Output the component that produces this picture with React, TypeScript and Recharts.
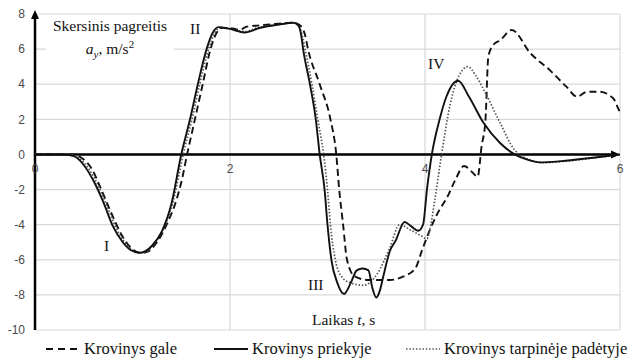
import React from "react";
import {
  LineChart,
  Line,
  XAxis,
  YAxis,
  CartesianGrid,
  ReferenceLine,
} from "recharts";

// Laikas t, s  /  Skersinis pagreitis a_y, m/s2
const tGale = [
  0, 0.38, 0.48, 0.58, 0.68, 0.78, 0.88, 0.98, 1.08, 1.15, 1.25, 1.35, 1.45, 1.5,
  1.56, 1.64, 1.72, 1.8, 1.86, 1.91, 2.0, 2.1, 2.17, 2.3, 2.5, 2.65, 2.72, 2.77,
  2.8, 2.92, 3.03, 3.09, 3.12, 3.16, 3.2, 3.28, 3.42, 3.64, 3.78, 3.9, 3.97, 4.05,
  4.12, 4.24, 4.31, 4.4, 4.48, 4.54, 4.58, 4.62, 4.65, 4.7, 4.77, 4.89, 5.08,
  5.28, 5.45, 5.56, 5.66, 5.79, 5.93, 5.98, 6.0,
];
const aGale = [
  0, 0, -0.2, -0.8, -2.0, -3.3, -4.5, -5.3, -5.6, -5.55, -5.0, -4.0, -2.6, -1.6,
  0, 2, 4, 6, 6.9, 7.2, 7.2, 7.1, 7.28, 7.35, 7.45, 7.5, 7.35, 6.8,
  6, 4, 2, 0, -2, -4, -6, -6.95, -7.15, -7.15, -6.95, -6.5, -5.45, -4.3,
  -3.45, -2.3, -1.46, -0.66, -0.98, -1.27, 0.44, 1.96, 5.6, 6.23, 6.5, 7.09, 5.77,
  4.8, 3.86, 3.29, 3.57, 3.57, 3.2, 2.64, 2.4,
];

const tPriekyje = [
  0, 0.3, 0.4, 0.5, 0.6, 0.7, 0.8, 0.9, 1.0, 1.08, 1.2, 1.3, 1.4, 1.5, 1.59, 1.67,
  1.76, 1.82, 1.88, 2.0, 2.15, 2.3, 2.5, 2.65, 2.7, 2.73, 2.75, 2.82, 2.88, 2.92,
  2.97, 3.0, 3.04, 3.1, 3.17, 3.24, 3.3, 3.36, 3.42, 3.46, 3.5, 3.54, 3.57, 3.64,
  3.7, 3.79, 3.86, 3.93, 3.98, 4.02, 4.07, 4.15, 4.22, 4.34, 4.45, 4.6, 4.77,
  4.92, 5.05, 5.18, 5.4, 5.7, 6.0,
];
const aPriekyje = [
  0, 0, -0.1, -0.6, -1.5, -2.7, -4.1, -5.0, -5.5, -5.6, -5.2, -4.4, -2.8, 0, 2, 4,
  6, 6.9, 7.25, 7.15, 6.95, 7.2, 7.4, 7.5, 7.35, 6.8, 6.0, 4, 2, 0,
  -2, -4, -6, -7.3, -7.95, -7.3, -6.6, -6.5, -6.6, -7.6, -8.15, -7.7, -7.0, -5.5,
  -4.9, -3.85, -4.1, -4.35, -4.0, -2.0, 0, 2.0, 3.3, 4.2, 3.3, 1.8, 0.65,
  0, -0.3, -0.45, -0.38, -0.2, 0,
];

const tTarpineje = [
  0, 0.35, 0.45, 0.55, 0.65, 0.75, 0.85, 0.95, 1.05, 1.12, 1.22, 1.32, 1.42, 1.52,
  1.61, 1.69, 1.78, 1.84, 1.9, 2.0, 2.15, 2.3, 2.5, 2.65, 2.71, 2.74, 2.77, 2.84,
  2.9, 2.96, 3.0, 3.03, 3.08, 3.15, 3.23, 3.37, 3.51, 3.64, 3.74, 3.85, 3.95,
  4.02, 4.06, 4.1, 4.17, 4.26, 4.35, 4.44, 4.52, 4.62, 4.77, 4.92, 4.97, 5.1,
  5.21, 5.5, 5.8, 6.0,
];
const aTarpineje = [
  0, 0, -0.2, -0.8, -1.8, -3.1, -4.4, -5.2, -5.6, -5.6, -5.1, -4.2, -2.6, 0,
  2, 4, 6, 6.9, 7.2, 7.15, 7.0, 7.25, 7.4, 7.5, 7.3, 6.8, 6, 4,
  2, 0, -2, -4, -6, -7.0, -7.3, -7.45, -6.8, -5.3, -4.0, -4.3, -4.6,
  -4.8, -4.0, -2.6, 0, 2.9, 4.5, 5.0, 4.5, 3.5, 1.8, 0.25, 0, -0.35,
  -0.47, -0.35, -0.15, 0,
];

const xTicks = [0, 2, 4, 6];
const yTicks = [-10, -8, -6, -4, -2, 0, 2, 4, 6, 8];

const seriesNames = [
  "Krovinys gale",
  "Krovinys priekyje",
  "Krovinys tarpinėje padėtyje",
];

const toPoints = (ts: number[], as: number[]) => ts.map((t, i) => ({ t, a: as[i] }));

const dataGale = toPoints(tGale, aGale);
const dataPriekyje = toPoints(tPriekyje, aPriekyje);
const dataTarpineje = toPoints(tTarpineje, aTarpineje);

const W = 631;
const CHART_H = 340;
const TOP = 14;
const PLOT_H = 316;
const zeroY = TOP + (PLOT_H * 8) / 18;

const tickFont = "'Liberation Sans', Arial, sans-serif";
const serif = "'Liberation Serif', 'Times New Roman', serif";

const XTick = (props: any) => {
  const { x, payload } = props;
  return (
    <text
      x={x}
      y={zeroY + 19}
      textAnchor="middle"
      fontFamily={tickFont}
      fontSize={12}
      fill="#4a4a4a"
    >
      {payload.value}
    </text>
  );
};

const YAxisArrow = (props: any) => {
  const { x1, y1, y2 } = props;
  const top = Math.min(y1, y2) - 2;
  const bottom = Math.max(y1, y2);
  return (
    <g>
      <line x1={x1} x2={x1} y1={top + 4} y2={bottom} stroke="#000" strokeWidth={2.5} />
      <polygon points={`${x1 - 4},${top + 7} ${x1 + 4},${top + 7} ${x1},${top - 2}`} fill="#000" />
    </g>
  );
};

const XAxisArrow = (props: any) => {
  const { x1, x2, y1 } = props;
  const left = Math.min(x1, x2);
  const right = Math.max(x1, x2);
  return (
    <g>
      <line x1={left} x2={right - 4} y1={y1} y2={y1} stroke="#000" strokeWidth={2.5} />
      <polygon points={`${right - 9},${y1 - 4} ${right - 9},${y1 + 4} ${right},${y1}`} fill="#000" />
    </g>
  );
};

const LegendSample = ({ dash, color, width }: { dash?: string; color: string; width: number }) => (
  <svg width={34} height={10} style={{ marginRight: 4 }}>
    <line x1={0} x2={34} y1={5} y2={5} stroke={color} strokeWidth={width} strokeDasharray={dash} />
  </svg>
);

export default function App() {
  return (
    <div style={{ position: "absolute", left: 0, top: 0, width: W, height: 363, background: "#fff" }}>
      <LineChart width={W} height={CHART_H} margin={{ top: TOP, right: 11, left: 0, bottom: 0 }}>
        <CartesianGrid stroke="#d9d9d9" strokeWidth={1.2} />
        <XAxis
          type="number"
          dataKey="t"
          domain={[0, 6]}
          ticks={xTicks}
          axisLine={false}
          tickLine={false}
          height={10}
          tick={<XTick />}
          allowDataOverflow
        />
        <YAxis
          type="number"
          domain={[-10, 8]}
          ticks={yTicks}
          axisLine={false}
          tickLine={false}
          width={35}
          tickSize={8}
          tick={{ fontFamily: tickFont, fontSize: 12, fill: "#4a4a4a" }}
          allowDataOverflow
        />
        <ReferenceLine y={0} ifOverflow="visible" shape={<XAxisArrow />} />
        <ReferenceLine x={0} ifOverflow="visible" shape={<YAxisArrow />} />
        <Line
          data={dataGale}
          dataKey="a"
          name={seriesNames[0]}
          type="monotone"
          stroke="#111"
          strokeWidth={1.9}
          strokeDasharray="7 4"
          dot={false}
          isAnimationActive={false}
        />
        <Line
          data={dataTarpineje}
          dataKey="a"
          name={seriesNames[2]}
          type="monotone"
          stroke="#555"
          strokeWidth={1.7}
          strokeDasharray="1.5 1.8"
          dot={false}
          isAnimationActive={false}
        />
        <Line
          data={dataPriekyje}
          dataKey="a"
          name={seriesNames[1]}
          type="monotone"
          stroke="#111"
          strokeWidth={1.9}
          dot={false}
          isAnimationActive={false}
        />
      </LineChart>

      <div
        style={{
          position: "absolute",
          left: 46,
          top: 17,
          width: 128,
          height: 42,
          background: "#fff",
          fontFamily: serif,
          fontSize: 15.5,
          lineHeight: "18px",
          textAlign: "center",
          color: "#111",
        }}
      >
        <div>Skersinis pagreitis</div>
        <div>
          <i>a</i>
          <sub style={{ fontSize: 11 }}>
            <i>y</i>
          </sub>
          , m/s<sup style={{ fontSize: 11 }}>2</sup>
        </div>
      </div>

      {[
        { label: "I", left: 104, top: 237 },
        { label: "II", left: 190, top: 20 },
        { label: "III", left: 308, top: 276 },
        { label: "IV", left: 428, top: 55 },
      ].map((n) => (
        <div
          key={n.label}
          style={{ position: "absolute", left: n.left, top: n.top, fontFamily: serif, fontSize: 15.5, color: "#111" }}
        >
          {n.label}
        </div>
      ))}

      <div
        style={{ position: "absolute", left: 312, top: 311, fontFamily: serif, fontSize: 15.5, color: "#111" }}
      >
        Laikas <i>t</i>, s
      </div>

      <div
        style={{
          position: "absolute",
          left: 0,
          top: 339,
          width: W,
          height: 20,
          fontFamily: serif,
          fontSize: 16.5,
          color: "#111",
        }}
      >
        <div style={{ position: "absolute", left: 46, display: "flex", alignItems: "center" }}>
          <LegendSample dash="7 5" color="#111" width={1.9} />
          {seriesNames[0]}
        </div>
        <div style={{ position: "absolute", left: 214, display: "flex", alignItems: "center" }}>
          <LegendSample color="#111" width={1.9} />
          {seriesNames[1]}
        </div>
        <div style={{ position: "absolute", left: 406, display: "flex", alignItems: "center" }}>
          <LegendSample dash="1.5 1.8" color="#555" width={1.7} />
          {seriesNames[2]}
        </div>
      </div>
    </div>
  );
}
